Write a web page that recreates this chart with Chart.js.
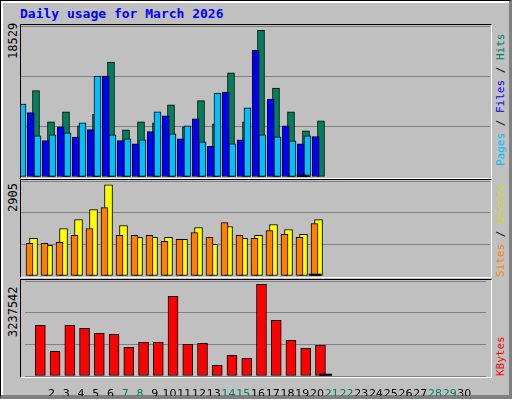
<!DOCTYPE html>
<html>
<head>
<meta charset="utf-8">
<script src="https://cdn.jsdelivr.net/npm/chart.js@4"></script>
<style>
  body { margin: 0; background: #fff; }
  #frame { position: absolute; left: 0; top: 0; width: 508px; height: 394px; background: #c0c0c0;
    border: 1px solid #000; border-right: 3px solid #808080; border-bottom: 4px solid #808080;
    box-shadow: inset 2px 2px 0 #fff; }
  .title { position: absolute; left: 20px; top: 6px; font: bold 13px "DejaVu Sans Mono", monospace; color: #0000ff; }
  .panel { position: absolute; left: 20px; width: 470px; border-top: 1px solid #000; border-left: 1px solid #000;
    border-right: 1px solid #fff; border-bottom: 1px solid #fff; }
  canvas { position: absolute; }
  .rot { position: absolute; transform-origin: 0 0; transform: rotate(-90deg); white-space: nowrap;
    font: 12px "DejaVu Sans Mono", monospace; }
  .leg { font-size: 11px; }
</style>
</head>
<body>
<div id="frame"></div>
<div class="title">Daily usage for March 2026</div>
<div class="panel" style="top:24px;height:153px"></div>
<div class="panel" style="top:179px;height:97px"></div>
<div class="panel" style="top:279px;height:97px"></div>

<div class="rot" style="left:6px;top:59px">18529</div>
<div class="rot" style="left:6px;top:212px">2905</div>
<div class="rot" style="left:6px;top:337px">3237542</div>

<div class="rot leg" style="left:494px;top:166px"><span style="color:#00c0ff">Pages</span> / <span style="color:#0000ff">Files</span> / <span style="color:#00805c">Hits</span></div>
<div class="rot leg" style="left:494px;top:277px"><span style="color:#ff8000">Sites</span> / <span style="color:#d8d800">Visits</span></div>
<div class="rot leg" style="left:494px;top:376px"><span style="color:#ff0000">KBytes</span></div>

<canvas id="top" style="left:21px;top:26px" width="469" height="151"></canvas>
<canvas id="mid" style="left:21px;top:181px" width="469" height="95"></canvas>
<canvas id="bot" style="left:21px;top:281px" width="469" height="115"></canvas>

<script>
  const days = Array.from({ length: 31 }, (_, i) => i + 1);
  const weekendDays = [1, 7, 8, 14, 15, 21, 22, 28, 29];

  const hits = [10900, 6960, 8220, 6460, 7960, 14500, 5950, 6960, 6830, 9100, 6330, 9640, 6710, 13160, 6960, 18529, 11230, 8220, 5830, 7080];
  const files = [8130, 4610, 6330, 5030, 5990, 12740, 4610, 4190, 5740, 7710, 4820, 7340, 3860, 10730, 4700, 16010, 9850, 6460, 4190, 5110];
  const pages = [9220, 5200, 5320, 5580, 6830, 12740, 5320, 4820, 4700, 8220, 5450, 6460, 4440, 10610, 4190, 8720, 5320, 5070, 4570, 5200];
  const visits = [1200, 979, 1516, 1800, 2116, 2905, 1610, 1231, 1231, 1231, 1168, 1547, 1010, 1579, 1200, 1295, 1642, 1484, 1326, 1800];
  const sites = [1042, 1042, 1074, 1295, 1516, 2179, 1295, 1295, 1295, 1105, 1168, 1389, 1231, 1705, 1295, 1200, 1453, 1326, 1231, 1674];
  const kbytes = [1789500, 871200, 1789500, 1683600, 1507000, 1471600, 1012500, 1189100, 1189100, 2813700, 1118400, 1153700, 376700, 729900, 624000, 3237542, 1966100, 1259700, 977200, 1083100];
  const todayDay = 21;

  const DAY_SPAN = 31.267;

  function xAxis(min, show) {
    const axis = {
      type: "linear", min: min, max: min + DAY_SPAN, display: show, offset: false,
      grid: { display: false }, border: { display: false },
    };
    if (show) {
      axis.afterFit = (s) => { s.height = 20; };
      axis.ticks = {
        stepSize: 1, padding: 4, autoSkip: false, maxRotation: 0,
        font: { family: "DejaVu Sans", size: 11 },
        color: (c) => weekendDays.includes(c.tick.value) ? "#00805c" : "#000",
        callback: (v) => (days.includes(v) ? String(v) : ""),
      };
    }
    return axis;
  }

  function ds(data, color, axis, width) {
    return {
      data: data.map((v, i) => ({ x: days[i], y: v })),
      backgroundColor: color, borderColor: "#000", borderWidth: 1, borderSkipped: false,
      barThickness: width, xAxisID: axis,
    };
  }

  function todayMark(axis) {
    return {
      data: [{ x: todayDay, y: 0 }], backgroundColor: "#000", borderWidth: 0,
      barThickness: 12, minBarLength: 2, xAxisID: axis,
    };
  }

  function panel(id, datasets, axes, yMax) {
    const scales = Object.assign({}, axes, {
      y: {
        min: 0, max: yMax, display: true,
        ticks: { count: 4, display: false },
        border: { display: false },
        grid: { color: "#808080", lineWidth: 1, drawTicks: false },
        afterFit: (s) => { s.width = 0; },
      },
    });
    return new Chart(document.getElementById(id), {
      type: "bar",
      data: { datasets: datasets },
      options: {
        responsive: false, animation: false, events: [],
        layout: { padding: 0 },
        plugins: { legend: { display: false }, tooltip: { enabled: false } },
        scales: scales,
      },
    });
  }

  panel("top", [
    todayMark("xp"),
    ds(pages, "#00c0ff", "xp", 7),
    ds(files, "#0000ff", "xf", 7),
    ds(hits, "#00805c", "xh", 7),
  ], { xp: xAxis(0.2, false), xf: xAxis(0.353, false), xh: xAxis(0.467, false) }, 19070);

  panel("mid", [
    todayMark("xo"),
    ds(sites, "#ff8000", "xo", 7),
    ds(visits, "#ffff00", "xv", 8),
  ], { xo: xAxis(0.2, false), xv: xAxis(0.433, false) }, 3031);

  panel("bot", [
    todayMark("xl"),
    ds(kbytes, "#ff0000", "xk", 10),
  ], { xl: xAxis(0.2, true), xk: xAxis(0.3, false) }, 3354000);
</script>
</body>
</html>
